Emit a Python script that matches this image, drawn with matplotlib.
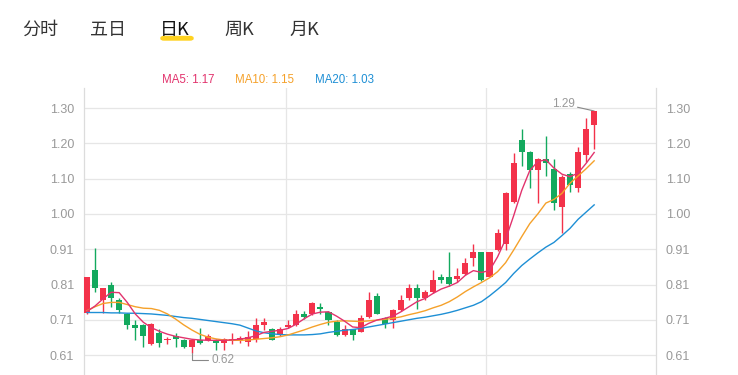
import matplotlib
matplotlib.use("Agg")
import matplotlib.pyplot as plt
from matplotlib.patches import FancyBboxPatch
import numpy as np

# daily K data (open, high, low, close)
opens = [0.730, 0.849, 0.768, 0.808, 0.766, 0.728, 0.697, 0.697, 0.645, 0.675,
         0.656, 0.667, 0.655, 0.637, 0.655, 0.657, 0.655, 0.648, 0.652, 0.655,
         0.650, 0.660, 0.697, 0.685, 0.672, 0.691, 0.697, 0.729, 0.729, 0.748,
         0.734, 0.706, 0.669, 0.685, 0.679, 0.720, 0.777, 0.716, 0.711, 0.739,
         0.771, 0.799, 0.771, 0.789, 0.829, 0.829, 0.826, 0.840, 0.882, 0.900,
         0.831, 0.905, 0.923, 1.039, 1.209, 1.177, 1.126, 1.156, 1.128, 1.025,
         1.115, 1.076, 1.168, 1.251]
highs = [0.830, 0.912, 0.800, 0.817, 0.771, 0.731, 0.711, 0.700, 0.702, 0.686,
         0.665, 0.676, 0.660, 0.655, 0.688, 0.672, 0.660, 0.662, 0.675, 0.668,
         0.680, 0.716, 0.716, 0.690, 0.692, 0.710, 0.740, 0.737, 0.762, 0.757,
         0.737, 0.711, 0.697, 0.687, 0.725, 0.789, 0.786, 0.719, 0.742, 0.780,
         0.812, 0.812, 0.795, 0.851, 0.838, 0.900, 0.854, 0.882, 0.921, 0.900,
         0.900, 0.962, 1.066, 1.174, 1.239, 1.180, 1.160, 1.221, 1.156, 1.112,
         1.120, 1.191, 1.270, 1.290]
lows = [0.728, 0.789, 0.731, 0.748, 0.731, 0.685, 0.657, 0.637, 0.643, 0.636,
        0.645, 0.637, 0.635, 0.620, 0.645, 0.652, 0.628, 0.628, 0.645, 0.648,
        0.640, 0.651, 0.683, 0.655, 0.668, 0.688, 0.695, 0.714, 0.726, 0.729,
        0.697, 0.667, 0.666, 0.657, 0.677, 0.716, 0.728, 0.688, 0.688, 0.735,
        0.768, 0.741, 0.768, 0.786, 0.815, 0.805, 0.817, 0.835, 0.860, 0.820,
        0.829, 0.903, 0.905, 1.034, 1.138, 1.076, 1.034, 1.110, 1.016, 0.951,
        1.066, 1.066, 1.149, 1.184]
closes = [0.829, 0.800, 0.799, 0.771, 0.739, 0.697, 0.688, 0.667, 0.700, 0.647,
          0.660, 0.658, 0.637, 0.655, 0.648, 0.667, 0.648, 0.658, 0.660, 0.662,
          0.664, 0.697, 0.706, 0.657, 0.685, 0.697, 0.729, 0.720, 0.759, 0.741,
          0.711, 0.669, 0.685, 0.669, 0.716, 0.768, 0.729, 0.700, 0.739, 0.768,
          0.799, 0.771, 0.789, 0.822, 0.822, 0.811, 0.832, 0.869, 0.900, 0.822,
          0.900, 0.951, 1.064, 1.147, 1.177, 1.126, 1.156, 1.147, 1.034, 1.108,
          1.085, 1.177, 1.239, 1.290]

ma5 = [0.735, 0.750, 0.770, 0.788, 0.787, 0.760, 0.728, 0.705, 0.690, 0.680,
       0.672, 0.666, 0.662, 0.658, 0.656, 0.655, 0.655, 0.655, 0.656, 0.658,
       0.662, 0.668, 0.677, 0.680, 0.683, 0.688, 0.700, 0.715, 0.728, 0.733,
       0.734, 0.722, 0.708, 0.692, 0.690, 0.702, 0.711, 0.716, 0.722, 0.734,
       0.748, 0.762, 0.771, 0.785, 0.797, 0.805, 0.815, 0.835, 0.848, 0.843,
       0.848, 0.886, 0.935, 1.000, 1.070, 1.125, 1.150, 1.155, 1.132, 1.115,
       1.108, 1.118, 1.145, 1.175]
ma10 = [0.737, 0.748, 0.757, 0.760, 0.760, 0.754, 0.748, 0.744, 0.743, 0.738,
        0.728, 0.714, 0.698, 0.684, 0.672, 0.664, 0.659, 0.656, 0.655, 0.655,
        0.656, 0.658, 0.660, 0.662, 0.665, 0.670, 0.677, 0.684, 0.692, 0.699,
        0.705, 0.708, 0.709, 0.708, 0.707, 0.709, 0.711, 0.713, 0.716, 0.720,
        0.726, 0.731, 0.737, 0.745, 0.752, 0.762, 0.775, 0.790, 0.803, 0.815,
        0.828, 0.845, 0.870, 0.905, 0.942, 0.978, 1.005, 1.035, 1.045, 1.062,
        1.090, 1.110, 1.130, 1.152]
ma20 = [0.732, 0.732, 0.732, 0.731, 0.731, 0.730, 0.730, 0.729, 0.728, 0.726,
        0.724, 0.721, 0.718, 0.716, 0.713, 0.710, 0.707, 0.704, 0.701, 0.697,
        0.689, 0.681, 0.676, 0.673, 0.671, 0.670, 0.670, 0.670, 0.671, 0.673,
        0.677, 0.680, 0.683, 0.685, 0.688, 0.692, 0.696, 0.700, 0.704, 0.708,
        0.712, 0.716, 0.719, 0.723, 0.727, 0.732, 0.738, 0.745, 0.752, 0.762,
        0.778, 0.796, 0.815, 0.840, 0.862, 0.880, 0.897, 0.913, 0.926, 0.945,
        0.965, 0.990, 1.010, 1.030]

tabs = ["分时", "五日", "日K", "周K", "月K"]
active_tab = "日K"
legend_items = [("MA5", 1.17), ("MA10", 1.15), ("MA20", 1.03)]
tick_labels = ["0.61", "0.71", "0.81", "0.91", "1.00", "1.10", "1.20", "1.30"]
tick_pos = np.linspace(0.614, 1.298, len(tick_labels))
month_lines = [24.7, 49.6]

RED = "#f3324a"
GREEN = "#13a95e"
C5, C10, C20 = "#e2336d", "#f5a12a", "#1e8fd5"
GRID = "#e6e6e6"
TXT = "#999999"

fig = plt.figure(figsize=(7.38, 3.75), dpi=100)
ax = fig.add_axes([84 / 738, 0, (656 - 84) / 738, 1 - 88 / 375])

x = np.arange(len(opens))
o = np.array(opens); c = np.array(closes)
up = c >= o
cols = np.where(up, RED, GREEN)
bottoms = np.minimum(o, c)
heights = np.maximum(np.abs(c - o), 0.003)

ax.vlines(x, lows, highs, colors=cols, linewidth=1.0, zorder=3)
ax.bar(x, heights, bottom=bottoms, width=0.75, color=cols, linewidth=0, zorder=4)

ax.plot(x, ma20, color=C20, lw=1.0, zorder=5)
ax.plot(x, ma10, color=C10, lw=1.0, zorder=5)
ax.plot(x, ma5, color=C5, lw=1.0, zorder=5)

ax.set_xlim(-0.37, 70.68)
ax.set_ylim(0.559, 1.3536)
ax.set_yticks(tick_pos)
ax.set_yticklabels(tick_labels)
ax.set_xticks([])
ax.tick_params(axis="y", length=0, pad=7, labelsize=9, labelcolor=TXT,
               labelleft=True, labelright=True)
for lab in ax.get_yticklabels():
    lab.set_family("Liberation Sans")
ax.grid(axis="y", color=GRID, lw=0.9, zorder=0)
for m in month_lines:
    ax.axvline(m, color=GRID, lw=0.9, zorder=0)
for side in ["top", "bottom"]:
    ax.spines[side].set_visible(False)
for side in ["left", "right"]:
    ax.spines[side].set_color("#dcdcdc")
    ax.spines[side].set_linewidth(0.9)

# highest / lowest markers
ihi = int(np.argmax(highs))
ilo = int(np.argmin(lows))
ax.annotate("%.2f" % highs[ihi], xy=(ihi, highs[ihi]), xytext=(-14, 5),
            textcoords="offset points", ha="right", va="center", fontsize=8.5,
            color=TXT, family="Liberation Sans",
            arrowprops=dict(arrowstyle="-", color="#888888", lw=0.8,
                            shrinkA=0, shrinkB=0))
ax.annotate("%.2f" % lows[ilo], xy=(ilo, lows[ilo]), xytext=(14, -5),
            textcoords="offset points", ha="left", va="center", fontsize=8.5,
            color=TXT, family="Liberation Sans",
            arrowprops=dict(arrowstyle="-", color="#888888", lw=0.8,
                            shrinkA=0, shrinkB=0,
                            connectionstyle="angle,angleA=0,angleB=90,rad=0"))

# tabs on top
tab_x = [22, 90, 160, 224, 289]
for t, tx in zip(tabs, tab_x):
    active = t == active_tab
    fig.text(tx / 738, 1 - 30 / 375, t, ha="left", va="center", fontsize=13,
             color="#111111" if active else "#333333",
             family=["Noto Sans CJK SC", "DejaVu Sans"])
fig.patches.append(FancyBboxPatch((161 / 738, 1 - 40 / 375), 32 / 738, 3.5 / 375,
                                  boxstyle="round,pad=0,rounding_size=0.004",
                                  transform=fig.transFigure, color="#ffd21f",
                                  zorder=0))

# MA legend
leg_x = [162, 235, 315]
for (name, val), lx, col in zip(legend_items, leg_x, [C5, C10, C20]):
    fig.text(lx / 738, 1 - 80 / 375, "%s: %.2f" % (name, val), ha="left",
             va="center", fontsize=8.3, color=col, family="Liberation Sans")

fig.savefig("out.png", dpi=100)
